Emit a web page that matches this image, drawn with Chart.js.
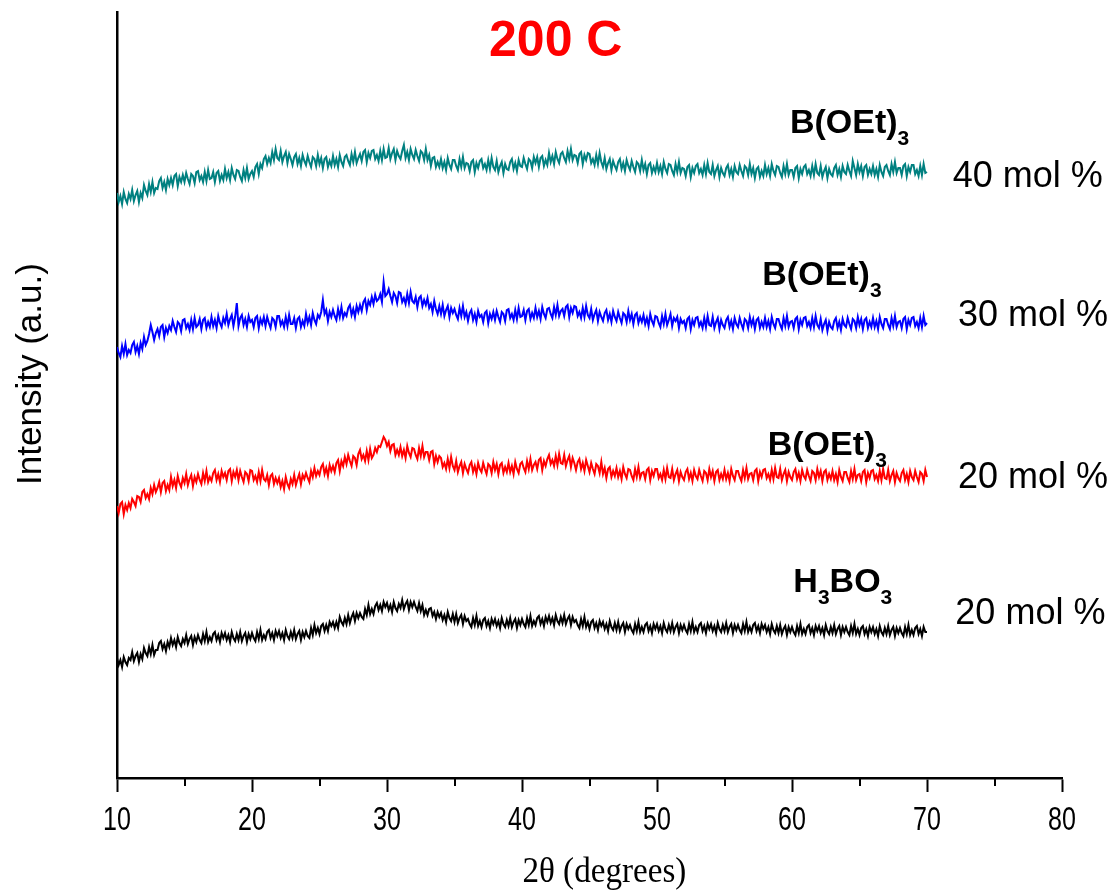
<!DOCTYPE html>
<html>
<head>
<meta charset="utf-8">
<script src="https://cdn.jsdelivr.net/npm/chart.js@4.4.1/dist/chart.umd.min.js"></script>
<style>
  html, body { margin: 0; padding: 0; background: #ffffff; }
  canvas { display: block; }
</style>
</head>
<body>
<canvas id="xrd" width="1110" height="893"></canvas>
<script>
// XRD scans of the 200 C samples, 2θ = 10°…70° in 0.125° steps (8 readings per degree).
// Intensities are in arbitrary units; each pattern already carries its stacking offset.
const scanStart = 10;
const scanStep = 0.125;

// B(OEt)3, 40 mol %
const teos40 = [
  585,576,582,574,586,579,575,584, 579,588,577,583,587,576,585,580, 593,587,583,594,586,596,585,590, 589,597,600,590,596,588,599,593, 600,593,602,604,592,601,596,603,
  596,605,599,594,604,602,595,606, 607,598,602,596,606,597,608,599, 600,606,596,605,607,597,603,598, 609,600,606,598,610,603,599,608, 607,601,597,608,600,610,599,604,
  607,601,611,614,604,614,610,619, 622,614,620,615,626,618,629,620, 618,627,616,622,626,615,624,619, 613,621,624,614,620,612,623,617, 613,622,616,611,621,619,612,623,
  614,620,610,619,621,611,617,612, 622,613,619,611,623,616,612,621, 623,617,613,624,616,626,615,620, 624,617,626,628,616,625,620,627, 628,619,623,617,627,618,629,620,
  621,630,619,625,629,618,627,622, 619,627,633,620,626,618,629,623, 619,628,622,617,627,625,618,629, 618,623,612,620,621,611,616,611, 619,610,616,608,620,613,609,618,
  618,612,608,619,611,621,610,615, 614,607,616,618,606,615,610,617, 619,610,614,608,618,609,620,611, 608,617,606,612,616,605,614,609, 608,616,619,609,615,607,618,612,
  611,620,614,609,619,617,610,621, 615,621,611,620,622,612,618,613, 625,616,622,614,626,619,615,624, 626,620,616,627,619,629,618,623, 622,615,624,626,614,623,618,625,
  624,615,619,613,623,614,625,616, 611,620,609,615,619,608,617,612, 608,616,619,609,615,607,618,612, 608,617,611,606,616,614,607,618, 608,614,604,613,615,605,611,606,
  615,606,612,604,616,609,605,614, 613,607,603,614,606,616,605,610, 609,602,611,613,601,610,605,612, 614,605,609,603,613,604,615,606, 604,613,602,608,612,601,610,605,
  602,610,613,603,609,601,612,606, 604,613,607,602,612,610,603,614, 604,610,600,609,611,601,607,602, 613,604,610,602,614,607,603,612, 611,605,601,612,604,614,603,608,
  608,601,610,612,600,609,604,611, 613,604,608,602,612,603,614,605, 603,612,601,607,611,600,609,604, 602,610,613,603,609,601,612,606, 604,613,607,602,617,610,603,614,
  606,612,602,611,613,603,609,604, 612,603,609,601,613,606,602,611, 613,607,603,614,606,616,605,610, 610,603,612,614,602,611,606,613, 613,604,608,602,612,603,614,605,
  606
];

// B(OEt)3, 30 mol %
const teos30 = [
  431,425,421,432,424,434,423,428, 425,433,436,426,432,424,435,429, 441,433,437,444,453,446,438,445, 449,442,451,453,441,450,445,452, 448,457,451,446,456,454,447,458,
  459,450,454,448,458,449,460,451, 453,459,449,458,460,450,456,451, 461,452,458,450,462,455,451,460, 455,464,453,459,463,452,461,475, 452,460,463,453,459,451,462,456,
  458,451,460,462,450,459,454,461, 452,461,455,450,460,458,451,462, 462,453,457,451,461,452,463,454, 454,460,450,459,461,451,457,452, 464,455,461,453,465,458,454,463,
  460,466,478,464,468,457,466,461, 468,462,458,469,461,471,460,465, 462,470,473,463,469,461,472,466, 473,467,476,479,468,477,473,481, 474,483,477,479,484,476,496,482,
  484,489,482,476,485,482,475,486, 485,476,480,474,484,475,486,477, 475,481,471,480,482,472,478,473, 480,470,474,466,477,469,464,472, 464,473,462,468,472,461,470,465,
  469,463,459,470,462,472,461,466, 457,465,468,458,464,456,467,461, 463,456,465,467,455,464,459,466, 458,467,461,456,466,464,457,468, 469,460,464,458,468,459,470,461,
  462,468,458,467,469,459,465,460, 470,461,467,459,471,464,460,469, 470,464,460,471,463,473,462,467, 469,462,471,473,461,470,465,472, 471,462,466,460,470,461,472,463,
  460,469,458,464,468,457,466,461, 457,465,468,458,464,456,467,461, 457,466,460,455,465,463,456,467, 458,464,454,463,465,455,461,456, 463,454,460,452,464,457,453,462,
  461,455,451,462,454,464,453,458, 464,452,460,457,461,450,459,455, 457,450,459,461,449,458,453,460, 461,452,456,450,460,451,462,453, 452,461,450,456,460,449,458,453,
  450,458,461,451,457,449,460,454, 451,460,454,449,459,457,450,461, 453,459,449,458,460,450,456,451, 460,451,457,449,461,454,450,459, 459,453,449,460,452,462,451,456,
  457,450,459,461,449,458,453,460, 461,452,456,450,460,451,462,453, 450,459,448,454,458,447,456,451, 449,457,460,450,456,448,459,453, 451,460,454,449,459,457,450,461,
  453,459,449,458,460,450,456,451, 460,451,457,449,461,454,450,459, 459,453,449,460,452,462,451,456, 457,450,459,461,449,458,453,460, 461,452,456,450,460,451,462,453,
  455
];

// B(OEt)3, 20 mol %
const teos20 = [
  272,265,274,276,264,273,268,275, 270,279,276,272,282,281,276,286, 288,280,284,279,290,284,293,286, 290,296,286,295,297,287,293,288, 301,292,298,290,302,295,291,300,
  295,304,293,299,303,292,301,296, 304,298,294,305,297,307,296,301, 297,305,308,298,304,296,307,301, 305,298,307,309,297,306,301,308, 298,307,301,296,306,304,297,308,
  307,298,302,296,306,297,308,299, 297,303,293,302,304,294,300,295, 300,291,297,289,301,294,290,299, 294,303,293,299,304,294,303,299, 305,300,296,307,301,310,302,307,
  303,311,314,304,310,302,313,307, 312,306,315,318,307,317,312,321, 314,323,317,312,322,320,313,324, 328,319,323,317,327,318,329,320, 323,330,326,332,331,336,341,338,
  332,336,327,333,334,323,328,323, 331,322,328,320,332,325,321,330, 329,323,319,330,322,332,321,326, 326,318,326,327,314,322,316,322, 320,311,315,309,319,310,321,312,
  308,317,306,312,316,305,314,309, 305,313,316,306,312,304,315,309, 306,315,309,304,314,312,305,316, 308,314,304,313,315,305,311,306, 315,306,312,304,316,309,305,314,
  316,310,306,317,309,319,308,313, 316,309,318,320,308,317,312,319, 323,314,318,312,322,313,324,315, 314,323,312,318,322,311,320,315, 308,316,319,309,315,307,318,312,
  306,315,309,304,314,312,305,316, 304,310,300,309,311,301,307,302, 310,301,307,299,311,304,300,309, 308,302,298,309,301,311,300,305, 306,299,308,310,298,307,302,309,
  309,300,304,298,308,299,310,301, 300,309,298,304,308,297,306,301, 298,306,309,299,305,297,308,302, 299,308,302,297,307,305,298,309, 301,307,297,306,308,298,304,299,
  308,299,305,297,309,302,298,307, 307,301,297,308,300,310,299,304, 305,298,307,309,297,306,301,308, 309,300,304,298,308,299,310,301, 300,309,298,304,308,297,306,301,
  298,306,309,299,305,297,308,302, 299,308,302,297,307,305,298,309, 301,307,297,306,308,298,304,299, 307,298,304,296,308,301,297,306, 306,300,296,307,299,309,298,303,
  304,297,306,308,296,305,300,307, 308,299,303,297,307,298,309,300, 299,308,297,303,307,296,305,300, 297,305,308,298,304,296,307,301, 298,307,301,296,306,304,297,308,
  301
];

// H3BO3, 20 mol %
const boric20 = [
  120,113,118,111,121,116,113,120, 118,126,117,122,125,116,124,119, 130,125,122,131,124,133,123,128, 128,135,137,129,134,127,136,131, 140,133,138,131,141,135,132,139,
  135,143,134,139,142,133,141,136, 143,138,135,144,137,146,136,141, 137,144,146,138,143,136,145,140, 145,138,143,136,146,140,137,144, 138,146,137,142,145,136,144,139,
  145,140,137,146,139,148,138,143, 139,146,148,140,145,138,147,142, 147,140,145,138,148,142,139,146, 140,148,139,144,147,138,146,141, 147,142,140,150,143,153,145,150,
  144,152,154,147,153,147,156,152, 156,150,156,150,161,156,153,160, 154,163,155,161,165,157,165,160, 165,161,159,169,163,173,164,169, 164,172,175,168,173,167,176,171,
  175,168,173,166,176,170,167,174, 170,178,169,174,177,168,176,171, 176,171,167,175,167,173,163,168, 163,169,170,162,166,159,166,161, 165,158,163,156,166,160,157,164,
  156,164,155,160,163,154,162,157, 159,154,151,160,153,162,152,157, 151,158,160,152,157,150,159,154, 159,152,157,150,160,154,151,158, 152,160,151,156,159,150,158,153,
  159,154,151,160,153,162,152,157, 153,160,162,154,159,152,161,156, 162,155,160,153,163,157,154,161, 155,163,154,159,162,153,161,156, 158,153,150,159,152,161,151,156,
  149,156,158,150,155,148,157,152, 156,149,154,147,157,151,148,155, 148,156,147,152,155,146,154,149, 153,148,145,154,147,156,146,151, 146,153,155,147,152,145,154,149,
  154,147,152,145,155,149,146,153, 147,155,146,151,154,145,153,148, 153,148,145,154,147,156,146,151, 146,153,155,147,152,145,154,149, 154,147,152,145,155,149,146,153,
  147,155,146,151,154,145,153,148, 153,148,145,154,147,156,146,151, 146,153,155,147,152,145,154,149, 153,146,151,144,154,148,145,152, 145,153,144,149,152,143,151,146,
  151,146,143,152,145,154,144,149, 144,151,153,145,150,143,152,147, 152,145,150,143,153,147,144,151, 145,153,144,149,152,143,151,146, 151,146,143,152,145,154,144,149,
  143,150,152,144,149,142,151,146, 151,144,149,142,152,146,143,150, 144,152,143,148,151,142,150,145, 150,145,142,151,144,153,143,148, 143,150,152,144,149,142,151,146,
  146
];

const majorTicks = [10, 20, 30, 40, 50, 60, 70, 80];
const minorTicks = [15, 25, 35, 45, 55, 65, 75];

const seriesColors = ['#008080', '#0000ff', '#ff0000', '#000000'];

// Text beside each pattern: compound (with subscripts) and loading.
const seriesNames = [
  [['B(OEt)', false], ['3', true]],
  [['B(OEt)', false], ['3', true]],
  [['B(OEt)', false], ['3', true]],
  [['H', false], ['3', true], ['BO', false], ['3', true]]
];
const seriesLoadings = ['40 mol %', '30 mol %', '20 mol %', '20 mol %'];

// Anchors in data units (2θ, a.u.) for that text.
const nameAnchors = [[59.85, 645], [57.8, 493], [58.2, 323], [60.1, 186]];
const loadingAnchors = [[71.9, 601], [72.3, 462], [72.3, 300], [72.1, 164]];

const chartTitle = '200 C';
const titleAnchor = [42.5, 736];
const xTitle = '2θ (degrees)';
const yTitle = 'Intensity (a.u.)';

function toPoints(values) {
  return values.map((v, i) => ({ x: scanStart + i * scanStep, y: v }));
}

const sansFamily = '"Liberation Sans", Arial, Helvetica, sans-serif';
const serifFamily = '"Liberation Serif", "Times New Roman", Times, serif';

const annotations = {
  id: 'annotations',
  afterDraw(chart) {
    const { ctx, scales: { x, y }, chartArea } = chart;
    ctx.save();

    // minor ticks on the 2θ axis
    ctx.strokeStyle = '#000';
    ctx.lineWidth = 2;
    minorTicks.forEach(v => {
      const px = Math.round(x.getPixelForValue(v));
      ctx.beginPath();
      ctx.moveTo(px, chartArea.bottom);
      ctx.lineTo(px, chartArea.bottom + 8);
      ctx.stroke();
    });

    // 2θ tick labels, condensed face
    ctx.fillStyle = '#000';
    ctx.font = '33px ' + sansFamily;
    ctx.textAlign = 'center';
    ctx.textBaseline = 'alphabetic';
    majorTicks.forEach(v => {
      ctx.save();
      ctx.translate(x.getPixelForValue(v), chartArea.bottom + 52);
      ctx.scale(0.76, 1);
      ctx.fillText(String(v), 0, 0);
      ctx.restore();
    });

    // 2θ axis title
    ctx.save();
    ctx.font = '36px ' + serifFamily;
    ctx.translate(x.getPixelForValue(46.1), chartArea.bottom + 104);
    ctx.scale(0.92, 1);
    ctx.fillText(xTitle, 0, 0);
    ctx.restore();

    // chart title
    ctx.fillStyle = '#ff0000';
    ctx.font = 'bold 50px ' + sansFamily;
    ctx.textAlign = 'center';
    ctx.textBaseline = 'middle';
    ctx.fillText(chartTitle, x.getPixelForValue(titleAnchor[0]), y.getPixelForValue(titleAnchor[1]));

    // compound names with subscripts
    ctx.fillStyle = '#000';
    ctx.textAlign = 'left';
    ctx.textBaseline = 'alphabetic';
    seriesNames.forEach((parts, k) => {
      let px = x.getPixelForValue(nameAnchors[k][0]);
      const base = y.getPixelForValue(nameAnchors[k][1]);
      parts.forEach(([txt, sub]) => {
        ctx.font = sub ? 'bold 21px ' + sansFamily : 'bold 34px ' + sansFamily;
        ctx.fillText(txt, px, sub ? base + 12 : base);
        px += ctx.measureText(txt).width;
      });
    });

    // loadings
    ctx.font = '36px ' + sansFamily;
    ctx.textBaseline = 'middle';
    seriesLoadings.forEach((txt, k) => {
      ctx.fillText(txt, x.getPixelForValue(loadingAnchors[k][0]), y.getPixelForValue(loadingAnchors[k][1]));
    });

    // intensity axis title
    ctx.font = '35px ' + sansFamily;
    ctx.textAlign = 'center';
    ctx.translate(31, (chartArea.top + chartArea.bottom) / 2 - 21);
    ctx.rotate(-Math.PI / 2);
    ctx.fillText(yTitle, 0, 0);

    ctx.restore();
  }
};

new Chart(document.getElementById('xrd'), {
  type: 'line',
  data: {
    datasets: [teos40, teos30, teos20, boric20].map((vals, k) => ({
      data: toPoints(vals),
      borderColor: seriesColors[k],
      backgroundColor: seriesColors[k],
      borderWidth: 2,
      pointRadius: 0,
      tension: 0,
      fill: false
    }))
  },
  options: {
    responsive: false,
    animation: false,
    events: [],
    layout: { padding: { left: 0, top: 12, right: 48, bottom: 0 } },
    plugins: { legend: { display: false }, tooltip: { enabled: false }, title: { display: false } },
    scales: {
      x: {
        type: 'linear',
        min: 10,
        max: 80,
        afterBuildTicks: scale => { scale.ticks = majorTicks.map(v => ({ value: v })); },
        afterFit: scale => { scale.height = 115; },
        grid: { display: true, drawOnChartArea: false, drawTicks: true, tickLength: 14, tickWidth: 2, tickColor: '#000' },
        border: { display: true, color: '#000', width: 2.5 },
        ticks: { display: false }
      },
      y: {
        type: 'linear',
        min: 0,
        max: 766,
        afterFit: scale => { scale.width = 117; },
        grid: { display: false },
        border: { display: true, color: '#000', width: 2.5 },
        ticks: { display: false }
      }
    }
  },
  plugins: [annotations]
});
</script>
</body>
</html>
